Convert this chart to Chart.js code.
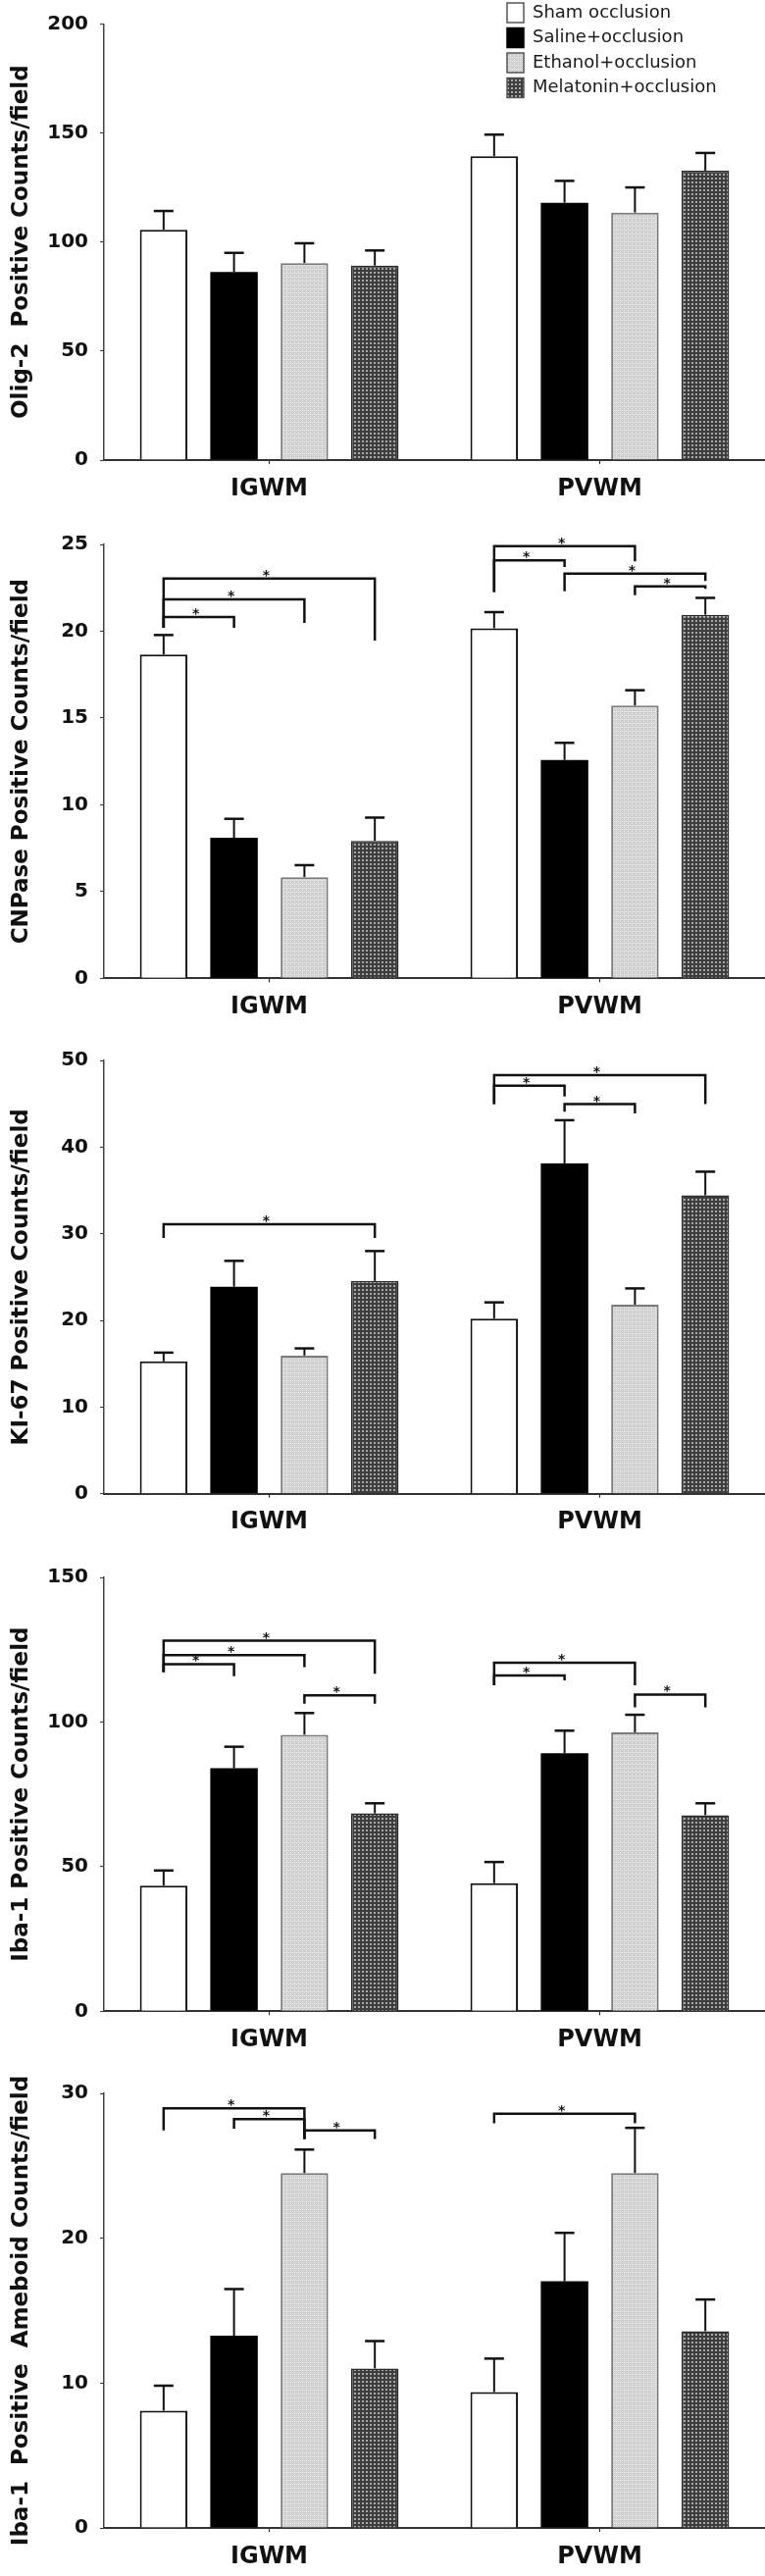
<!DOCTYPE html>
<html><head><meta charset="utf-8">
<script src="https://cdn.jsdelivr.net/npm/chart.js@4.4.1/dist/chart.umd.min.js"></script>
<style>
html,body{margin:0;padding:0;background:#fff;overflow:hidden}
#wrap{position:relative;width:780px;height:2626px;background:#fff}
#wrap canvas{position:absolute;left:0}
</style></head>
<body><div id="wrap"></div>
<script>
// ---------- DATA ----------
const categories = ['IGWM', 'PVWM'];
const groups = ['Sham occlusion', 'Saline+occlusion', 'Ethanol+occlusion', 'Melatonin+occlusion'];

// Olig-2 (order: sham, saline, ethanol, melatonin)
const olig2IGWM = [105.6, 86.2, 90.3, 89.2];
const olig2IGWMErr = [8.6, 8.8, 9.1, 6.9];
const olig2PVWM = [139.3, 118.0, 113.5, 132.7];
const olig2PVWMErr = [9.9, 10.0, 11.5, 8.1];
const olig2Axis = [0, 200, 50];
const olig2Brackets = [];

// CNPase
const cnpIGWM = [18.66, 8.10, 5.83, 7.92];
const cnpIGWMErr = [1.12, 1.09, 0.69, 1.34];
const cnpPVWM = [20.17, 12.58, 15.72, 20.95];
const cnpPVWMErr = [0.93, 0.99, 0.88, 0.97];
const cnpAxis = [0, 25, 5];
// [category, fromGroup, toGroup, lineValue, leftTipValue, rightTipValue]
const cnpBrackets = [
  [0, 0, 1, 20.82, 20.2, 20.2],
  [0, 0, 2, 21.83, 20.2, 20.48],
  [0, 0, 3, 23.04, 20.2, 19.46],
  [1, 0, 1, 24.08, 22.26, 23.7],
  [1, 0, 2, 24.9, 22.26, 24.03],
  [1, 1, 3, 23.32, 22.3, 22.9],
  [1, 2, 3, 22.58, 22.07, 22.44]
];

// Ki-67
const ki67IGWM = [15.27, 23.88, 15.94, 24.55];
const ki67IGWMErr = [1.01, 2.99, 0.83, 3.45];
const ki67PVWM = [20.2, 38.1, 21.82, 34.43];
const ki67PVWMErr = [1.88, 5.0, 1.87, 2.73];
const ki67Axis = [0, 50, 10];
const ki67Brackets = [
  [0, 0, 3, 31.1, 29.5, 29.5],
  [1, 0, 1, 47.08, 44.95, 45.85],
  [1, 0, 3, 48.3, 44.95, 44.95],
  [1, 1, 2, 44.95, 44.08, 43.9]
];

// Iba-1
const iba1IGWM = [43.46, 84.0, 95.6, 68.4];
const iba1IGWMErr = [5.21, 7.45, 7.5, 3.5];
const iba1PVWM = [44.3, 89.2, 96.4, 67.8];
const iba1PVWMErr = [7.3, 7.8, 6.1, 4.1];
const iba1Axis = [0, 150, 50];
const iba1Brackets = [
  [0, 0, 1, 120.0, 117.3, 115.8],
  [0, 0, 2, 123.1, 117.3, 119.0],
  [0, 0, 3, 128.1, 117.3, 116.7],
  [0, 2, 3, 109.2, 106.3, 106.3],
  [1, 0, 1, 116.1, 112.7, 114.4],
  [1, 0, 2, 120.5, 112.7, 112.7],
  [1, 2, 3, 109.5, 105.1, 105.1]
];

// Iba-1 ameboid
const amebIGWM = [8.1, 13.27, 24.5, 11.01];
const amebIGWMErr = [1.72, 3.22, 1.62, 1.89];
const amebPVWM = [9.38, 17.03, 24.5, 13.58];
const amebPVWMErr = [2.31, 3.34, 3.12, 2.19];
const amebAxis = [0, 30, 10];
const amebBrackets = [
  [0, 0, 2, 28.96, 27.45, 26.85],
  [0, 1, 2, 28.23, 27.57, 26.85],
  [0, 2, 3, 27.45, 26.85, 26.85],
  [1, 0, 2, 28.6, 27.94, 27.94]
];

const yTitles = [
  'Olig-2  Positive Counts/field',
  'CNPase Positive Counts/field',
  'KI-67 Positive Counts/field',
  'Iba-1 Positive Counts/field',
  'Iba-1  Positive  Ameboid Counts/field'
];

// ---------- LAYOUT / STYLE ----------
const plotTops = [24.3, 551, 1077.3, 1604.7, 2130.4];
const plotBottoms = [469, 997.3, 1522.7, 2050.3, 2577];
const XAXIS_H = 50;
const FONT = "'DejaVu Sans', 'Liberation Sans', Arial, sans-serif";

function makePattern(bg, dot, size, dots) {
  const c = document.createElement('canvas');
  c.width = size; c.height = size;
  const g = c.getContext('2d');
  g.fillStyle = bg; g.fillRect(0, 0, size, size);
  g.fillStyle = dot;
  dots.forEach(d => g.fillRect(d[0], d[1], d[2], d[3]));
  return g.createPattern(c, 'repeat');
}
const ethanolFill = makePattern('#cfcfcf', '#f4f4f4', 4, [[0,0,1,1],[2,2,1,1],[0,2,1,1]]);
const melatoninFill = makePattern('#3e3e3e', '#a8a8a8', 4, [[1,1,2,2]]);
const fills = ['#ffffff', '#000000', ethanolFill, melatoninFill];
const borders = ['#111111', '#000000', '#7a7a7a', '#2a2a2a'];
const borderWidths = [2, 0, 2, 1.5];

function errorPlugin(errs) {
  return {
    id: 'errorBars',
    afterDatasetsDraw(chart) {
      const ctx = chart.ctx, y = chart.scales.y;
      ctx.save();
      ctx.strokeStyle = '#111'; ctx.lineWidth = 2;
      chart.data.datasets.forEach((ds, j) => {
        chart.getDatasetMeta(j).data.forEach((bar, c) => {
          const top = y.getPixelForValue(ds.data[c] + errs[c][j]);
          ctx.beginPath();
          ctx.moveTo(bar.x, bar.y); ctx.lineTo(bar.x, top);
          ctx.stroke();
          ctx.lineWidth = 2.5;
          ctx.beginPath();
          ctx.moveTo(bar.x - 10, top); ctx.lineTo(bar.x + 10, top);
          ctx.stroke();
          ctx.lineWidth = 2;
        });
      });
      ctx.restore();
    }
  };
}

function bracketPlugin(brackets) {
  return {
    id: 'brackets',
    afterDatasetsDraw(chart) {
      const ctx = chart.ctx, y = chart.scales.y;
      ctx.save();
      ctx.strokeStyle = '#111'; ctx.fillStyle = '#111';
      ctx.lineWidth = 2.5; ctx.lineJoin = 'miter'; ctx.lineCap = 'butt';
      brackets.forEach(b => {
        const [c, g1, g2, v, v1, v2] = b;
        const x1 = chart.getDatasetMeta(g1).data[c].x;
        const x2 = chart.getDatasetMeta(g2).data[c].x;
        const yl = y.getPixelForValue(v);
        ctx.beginPath();
        ctx.moveTo(x1, y.getPixelForValue(v1));
        ctx.lineTo(x1, yl);
        ctx.lineTo(x2, yl);
        ctx.lineTo(x2, y.getPixelForValue(v2));
        ctx.stroke();
        ctx.font = 'bold 14px ' + FONT;
        ctx.textAlign = 'center'; ctx.textBaseline = 'alphabetic';
        ctx.fillText('*', (x1 + x2) / 2 - 3, yl + 1);
      });
      ctx.restore();
    }
  };
}

const legendPlugin = {
  id: 'legendBox',
  afterDraw(chart) {
    const ctx = chart.ctx;
    ctx.save();
    chart.data.datasets.forEach((ds, j) => {
      const cy = 13 + j * 25.5 - chart.canvas.offsetTop;
      ctx.fillStyle = ds.backgroundColor;
      ctx.fillRect(517, cy - 10, 17, 20);
      ctx.strokeStyle = j === 1 ? '#000' : '#555';
      ctx.lineWidth = 1.5;
      ctx.strokeRect(517, cy - 10, 17, 20);
      ctx.fillStyle = '#1a1a1a';
      ctx.font = '18px ' + FONT;
      ctx.textAlign = 'left'; ctx.textBaseline = 'middle';
      ctx.fillText(ds.label, 543, cy);
    });
    ctx.restore();
  }
};

const panels = [
  [olig2IGWM, olig2IGWMErr, olig2PVWM, olig2PVWMErr, olig2Axis, olig2Brackets],
  [cnpIGWM, cnpIGWMErr, cnpPVWM, cnpPVWMErr, cnpAxis, cnpBrackets],
  [ki67IGWM, ki67IGWMErr, ki67PVWM, ki67PVWMErr, ki67Axis, ki67Brackets],
  [iba1IGWM, iba1IGWMErr, iba1PVWM, iba1PVWMErr, iba1Axis, iba1Brackets],
  [amebIGWM, amebIGWMErr, amebPVWM, amebPVWMErr, amebAxis, amebBrackets]
];

const wrap = document.getElementById('wrap');
panels.forEach((p, i) => {
  const [ig, igErr, pv, pvErr, axis, brackets] = p;
  const pt = plotTops[i], pb = plotBottoms[i];
  const top = i === 0 ? 0 : Math.floor(pt) - 20;
  const padTop = pt - top;
  const height = Math.ceil(pb - top) + XAXIS_H;
  const padBottom = height - XAXIS_H - (pb - top);
  const cv = document.createElement('canvas');
  cv.width = 780; cv.height = height;
  cv.style.top = top + 'px';
  cv.style.width = '780px'; cv.style.height = height + 'px';
  wrap.appendChild(cv);

  const datasets = groups.map((g, j) => ({
    label: g,
    data: [ig[j], pv[j]],
    backgroundColor: fills[j],
    borderColor: borders[j],
    borderWidth: borderWidths[j],
    borderSkipped: 'bottom'
  }));

  const plugins = [errorPlugin([igErr, pvErr]), bracketPlugin(brackets)];
  if (i === 0) plugins.push(legendPlugin);

  new Chart(cv, {
    type: 'bar',
    data: { labels: categories, datasets },
    plugins,
    options: {
      responsive: false,
      animation: false,
      devicePixelRatio: 1,
      events: [],
      layout: { padding: { top: padTop, bottom: padBottom, left: 0, right: 0 } },
      datasets: { bar: { categoryPercentage: 0.852, barPercentage: 0.675 } },
      plugins: { legend: { display: false }, tooltip: { enabled: false }, title: { display: false } },
      scales: {
        x: {
          afterFit: s => { s.height = XAXIS_H; },
          grid: { display: true, drawOnChartArea: false, drawTicks: true, tickLength: 4, offset: false, color: '#222' },
          border: { display: true, color: '#333', width: 2 },
          ticks: { color: '#111', padding: 11, font: { family: FONT, size: 24, weight: 'bold' } }
        },
        y: {
          min: axis[0], max: axis[1],
          afterFit: s => { s.width = 106; },
          grid: { display: true, drawOnChartArea: false, drawTicks: true, tickLength: 4, color: '#333' },
          border: { display: true, color: '#444', width: 1.5 },
          ticks: { stepSize: axis[2], color: '#111', padding: 12, font: { family: FONT, size: 20, weight: 'bold' } },
          title: { display: true, text: yTitles[i], color: '#111', padding: { top: 8, bottom: 0 },
                   font: { family: FONT, size: 23, weight: 'bold' } }
        }
      }
    }
  });
});
</script>
</body></html>
